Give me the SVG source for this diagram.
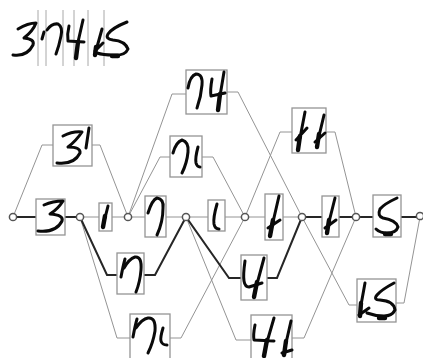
<svg xmlns="http://www.w3.org/2000/svg" width="423" height="358" viewBox="0 0 423 358">
<style>
.t{fill:none;stroke:#949494;stroke-width:1}
.k{fill:none;stroke:#262626;stroke-width:2}
.b{fill:#fff;stroke:#949494;stroke-width:1.3}
.d{fill:none;stroke:#0a0a0a;stroke-width:3;stroke-linecap:round;stroke-linejoin:round}
.h{stroke-width:4.4}
.v{stroke:#a8a8a8;stroke-width:1}
.n{fill:#fff;stroke:#555;stroke-width:1.5}
</style>
<rect width="423" height="358" fill="#fff"/>
<g id="header">
<path class="v" d="M38 10V66M46 10V66M63 10V66M74 10V66M88 10V66M104 10V66"/>
<path class="d" d="M18 29Q28 23 36 23Q33 31 24 38Q35 39 33 45Q27 57 13 55"/>
<path class="d" d="M42 39L44 32M47 30Q52 23 58 24Q63 27 61 36Q59 46 56 54"/>
<path class="d" d="M69 26Q67 34 68 41L84 42M83 20L78 42"/>
<path class="d h" d="M78 42L76 58"/>
<path class="d" d="M102 29L97 47M103 43L95 51"/>
<path class="d h" d="M96 47L95 55"/>
<path class="d" d="M127 22Q112 28 108 34Q105 39 113 40Q125 41 128 49Q125 56 113 55Q103 55 97 53"/>
<path class="d h" d="M112 56H118"/>
</g>
<g id="connectors">
<path class="t" d="M13 217L42 145H53M92 145H100L128 217"/>
<path class="t" d="M80 217H99M112 217H128M128 217H145M166 217H186M186 217H208M225 217H245M245 217H265M283 217H302"/>
<path class="t" d="M80 217L117 338H130M170 338H181L245 217L280 132H292M326 132H335L356 217"/>
<path class="t" d="M128 217L172 94H186M227 92H238L302 217L349 305H357M396 303H404L420 217"/>
<path class="t" d="M128 217L160 157H170M202 157H213L245 217"/>
<path class="t" d="M186 217L236 340H251M292 338H304L356 217"/>
<path class="k" d="M13 217H36M65 217H80M302 217H322M339 217H373M401 217H420"/>
<path class="k" d="M80 217L107 275H117M144 275H155L186 217L229 278H241M267 278H277L302 217"/>
</g>
<g id="j0"><circle class="n" cx="13" cy="217" r="3.6"/></g>
<g id="j1"><circle class="n" cx="80" cy="217" r="3.6"/></g>
<g id="j2"><circle class="n" cx="128" cy="217" r="3.6"/></g>
<g id="j3"><circle class="n" cx="186" cy="217" r="3.6"/></g>
<g id="j4"><circle class="n" cx="245" cy="217" r="3.6"/></g>
<g id="j5"><circle class="n" cx="302" cy="217" r="3.6"/></g>
<g id="j6"><circle class="n" cx="356" cy="217" r="3.6"/></g>
<g id="j7"><circle class="n" cx="420" cy="216" r="3.6"/></g>
<g id="n31"><rect class="b" x="53" y="125" width="39" height="41"/><path class="d" d="M63 136Q73 131 82 132Q76 141 68 147Q81 147 80 153Q74 165 57 163M89 128L86 148"/></g>
<g id="n3"><rect class="b" x="36" y="199" width="29" height="36"/><path class="d" d="M44 205Q53 201 63 201Q58 209 50 214Q64 215 62 221Q56 233 38 231"/></g>
<g id="n1a"><rect class="b" x="99" y="203" width="13" height="28"/><path class="d" d="M108 206L105 218"/><path class="d h" d="M105 216L103 227"/></g>
<g id="n7a"><rect class="b" x="145" y="196" width="21" height="41"/><path class="d" d="M148 213Q152 200 157 198Q164 199 163 208Q163 222 157 235"/></g>
<g id="n7b"><rect class="b" x="117" y="253" width="27" height="41"/><path class="d" d="M121 277Q123 266 125 259M124 268Q129 259 135 257Q142 256 141 270Q140 282 136 292"/></g>
<g id="n71b"><rect class="b" x="130" y="314" width="40" height="46"/><path class="d" d="M133 337Q135 326 137 319M136 328Q142 319 148 318Q156 317 155 331Q153 343 148 353M163 328Q160 338 161 341Q162 345 167 345"/></g>
<g id="n74"><rect class="b" x="186" y="70" width="41" height="44"/><path class="d" d="M188 88Q190 76 196 74Q203 74 202 85Q201 97 197 108M212 79Q210 90 211 96L225 93M224 72L220 96"/><path class="d h" d="M220 94L218 110"/></g>
<g id="n71a"><rect class="b" x="170" y="136" width="32" height="41"/><path class="d" d="M173 153Q176 142 182 140Q189 142 188 152Q187 163 182 173M198 147Q195 158 196 163Q197 167 200 167"/></g>
<g id="n1b"><rect class="b" x="208" y="200" width="17" height="31"/><path class="d" d="M217 204Q213 218 214 224Q215 229 219 229"/></g>
<g id="n11"><rect class="b" x="292" y="108" width="34" height="45"/><path class="d" d="M305 112L300 138M307 128L296 140M324 115L319 136M325 133L315 142"/><path class="d h" d="M300 136L298 150M319 134L317 147"/></g>
<g id="n1c"><rect class="b" x="265" y="194" width="18" height="46"/><path class="d" d="M279 196L273 222M280 220L268 228"/><path class="d h" d="M273 220L270 236"/></g>
<g id="n4"><rect class="b" x="241" y="255" width="26" height="45"/><path class="d" d="M245 261Q243 275 244 281Q245 287 249 287L262 283M264 258L257 284"/><path class="d h" d="M257 282L254 297"/></g>
<g id="n41"><rect class="b" x="251" y="315" width="41" height="46"/><path class="d" d="M255 325Q253 335 254 340L274 341M274 318L267 342M291 321L286 343M292 350L282 353"/><path class="d h" d="M267 340L264 356M286 341L284 355"/></g>
<g id="n1d"><rect class="b" x="322" y="196" width="17" height="41"/><path class="d" d="M335 198L329 222M336 220L325 228"/><path class="d h" d="M329 220L327 233"/></g>
<g id="n5"><rect class="b" x="373" y="195" width="28" height="42"/><path class="d" d="M397 198Q384 204 380 209Q377 216 383 218Q396 220 398 227Q396 233 387 233Q380 233 376 229"/><path class="d h" d="M385 234H391"/></g>
<g id="n15"><rect class="b" x="357" y="279" width="39" height="43"/><path class="d" d="M365 283L361 305M369 308L359 315M394 283Q381 290 377 295Q373 300 380 300Q394 301 395 310Q392 316 384 316Q375 316 367 313"/><path class="d h" d="M361 303L360 316M379 318H385"/></g>
</svg>
